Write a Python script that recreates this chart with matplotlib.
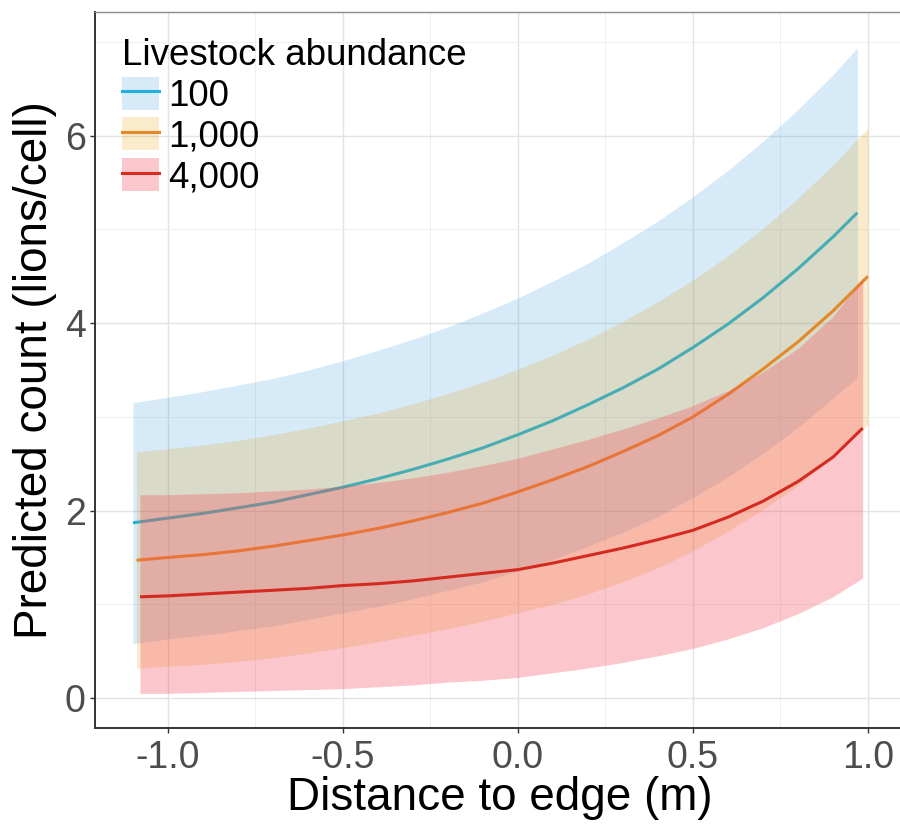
import matplotlib
matplotlib.use("Agg")
import matplotlib.pyplot as plt
from matplotlib.lines import Line2D
from matplotlib.patches import Patch

plt.rcParams['font.family'] = ['Liberation Sans', 'DejaVu Sans']

# ---- data ----
labels = ['100', '1,000', '4,000']

x100 = [-1.10, -1.0, -0.9, -0.8, -0.7, -0.6, -0.5, -0.4, -0.3, -0.2, -0.1, 0.0,
        0.1, 0.2, 0.3, 0.4, 0.5, 0.6, 0.7, 0.8, 0.9, 0.97]
fit100 = [1.87, 1.92, 1.97, 2.03, 2.09, 2.17, 2.25, 2.34, 2.44, 2.55, 2.67, 2.81,
          2.96, 3.13, 3.31, 3.51, 3.74, 3.99, 4.27, 4.58, 4.92, 5.18]
hi100 = [3.15, 3.21, 3.27, 3.34, 3.41, 3.50, 3.60, 3.71, 3.83, 3.96, 4.11, 4.27,
         4.45, 4.64, 4.86, 5.09, 5.35, 5.63, 5.94, 6.28, 6.65, 6.94]
lo100 = [0.58, 0.63, 0.67, 0.72, 0.77, 0.84, 0.91, 0.98, 1.06, 1.15, 1.24, 1.36,
         1.48, 1.62, 1.77, 1.94, 2.14, 2.36, 2.61, 2.89, 3.20, 3.42]

x1000 = [-1.09, -1.0, -0.9, -0.8, -0.7, -0.6, -0.5, -0.4, -0.3, -0.2, -0.1, 0.0,
         0.1, 0.2, 0.3, 0.4, 0.5, 0.6, 0.7, 0.8, 0.9, 1.0]
fit1000 = [1.47, 1.50, 1.53, 1.57, 1.62, 1.68, 1.74, 1.81, 1.89, 1.98, 2.08, 2.20,
           2.33, 2.47, 2.63, 2.80, 3.00, 3.24, 3.51, 3.80, 4.13, 4.50]
hi1000 = [2.63, 2.66, 2.70, 2.75, 2.81, 2.88, 2.96, 3.04, 3.14, 3.25, 3.37, 3.51,
          3.66, 3.83, 4.02, 4.23, 4.46, 4.72, 5.01, 5.33, 5.69, 6.08]
lo1000 = [0.32, 0.34, 0.36, 0.39, 0.43, 0.48, 0.54, 0.60, 0.67, 0.74, 0.82, 0.91,
          1.00, 1.11, 1.24, 1.39, 1.57, 1.78, 2.01, 2.27, 2.57, 2.92]

x4000 = [-1.08, -1.0, -0.9, -0.8, -0.7, -0.6, -0.5, -0.4, -0.3, -0.2, -0.1, 0.0,
         0.1, 0.2, 0.3, 0.4, 0.5, 0.6, 0.7, 0.8, 0.9, 0.985]
fit4000 = [1.08, 1.09, 1.11, 1.13, 1.15, 1.17, 1.20, 1.22, 1.25, 1.29, 1.33, 1.37,
           1.44, 1.52, 1.60, 1.69, 1.79, 1.93, 2.10, 2.31, 2.57, 2.88]
hi4000 = [2.17, 2.17, 2.18, 2.19, 2.21, 2.23, 2.26, 2.30, 2.35, 2.41, 2.48, 2.56,
          2.66, 2.76, 2.87, 2.99, 3.12, 3.28, 3.48, 3.73, 4.07, 4.48]
lo4000 = [0.05, 0.05, 0.06, 0.07, 0.08, 0.09, 0.10, 0.12, 0.14, 0.17, 0.19, 0.22,
          0.27, 0.32, 0.38, 0.45, 0.53, 0.63, 0.75, 0.90, 1.08, 1.28]

xticks = [-1.0, -0.5, 0.0, 0.5, 1.0]
xticklabels = ['-1.0', '-0.5', '0.0', '0.5', '1.0']
yticks = [0, 2, 4, 6]

# ---- styling ----
line_cols = ['#1FB2E0', '#E3892A', '#D42A20']
fill_cols = ['#3296DC', '#E69B05', '#F54858']
fill_alpha = [0.2, 0.2, 0.3]

fig = plt.figure(figsize=(9, 8.3), dpi=100)
ax = fig.add_axes([95 / 900, 102 / 830, 810 / 900, 716 / 830])

series = [(x100, fit100, lo100, hi100),
          (x1000, fit1000, lo1000, hi1000),
          (x4000, fit4000, lo4000, hi4000)]

handles = []
for i, (xs, fit, lo, hi) in enumerate(series):
    ax.fill_between(xs, lo, hi, color=fill_cols[i], alpha=fill_alpha[i],
                    linewidth=0, zorder=2 + 2 * i)
    ax.plot(xs, fit, color=line_cols[i], lw=2.2, zorder=3 + 2 * i,
            solid_capstyle='butt')
    handles.append((Patch(facecolor=fill_cols[i], alpha=fill_alpha[i], linewidth=0),
                    Line2D([], [], color=line_cols[i], lw=2.2)))

ax.set_xlim(-1.2086, 1.106)
ax.set_ylim(-0.320, 7.321)
ax.set_xticks(xticks)
ax.set_xticklabels(xticklabels)
ax.set_yticks(yticks)
ax.set_xticks([-0.75, -0.25, 0.25, 0.75], minor=True)
ax.set_yticks([1, 3, 5, 7], minor=True)

ax.grid(which='major', color='#E3E3E3', lw=1.0, zorder=0)
ax.grid(which='minor', color='#EFEFEF', lw=0.7, zorder=0)
ax.set_axisbelow(True)

ax.tick_params(which='major', direction='out', length=3.6, width=1.0,
               color='#333333', labelsize=27, labelcolor='#4D4D4D')
ax.tick_params(axis='x', which='major', pad=5)
ax.tick_params(axis='y', which='major', pad=3)
ax.tick_params(which='minor', length=0)

for side in ['left', 'bottom']:
    ax.spines[side].set_color('#333333')
    ax.spines[side].set_linewidth(1.4)
for side in ['top', 'right']:
    ax.spines[side].set_color('#8C8C8C')
    ax.spines[side].set_linewidth(1.0)

ax.set_xlabel('Distance to edge (m)', fontsize=33, labelpad=0)
ax.set_ylabel('Predicted count (lions/cell)', fontsize=33, labelpad=6)

leg = ax.legend(handles, labels, title='Livestock abundance',
                loc='upper left', bbox_to_anchor=(122 / 900, 1 - 38 / 830),
                bbox_transform=fig.transFigure,
                frameon=False, fontsize=26.5, title_fontsize=26.5,
                handlelength=1.0, handleheight=1.0, handletextpad=0.25,
                labelspacing=0.1, borderpad=0, borderaxespad=0,
                alignment='left')

fig.savefig('out.png', dpi=100)
